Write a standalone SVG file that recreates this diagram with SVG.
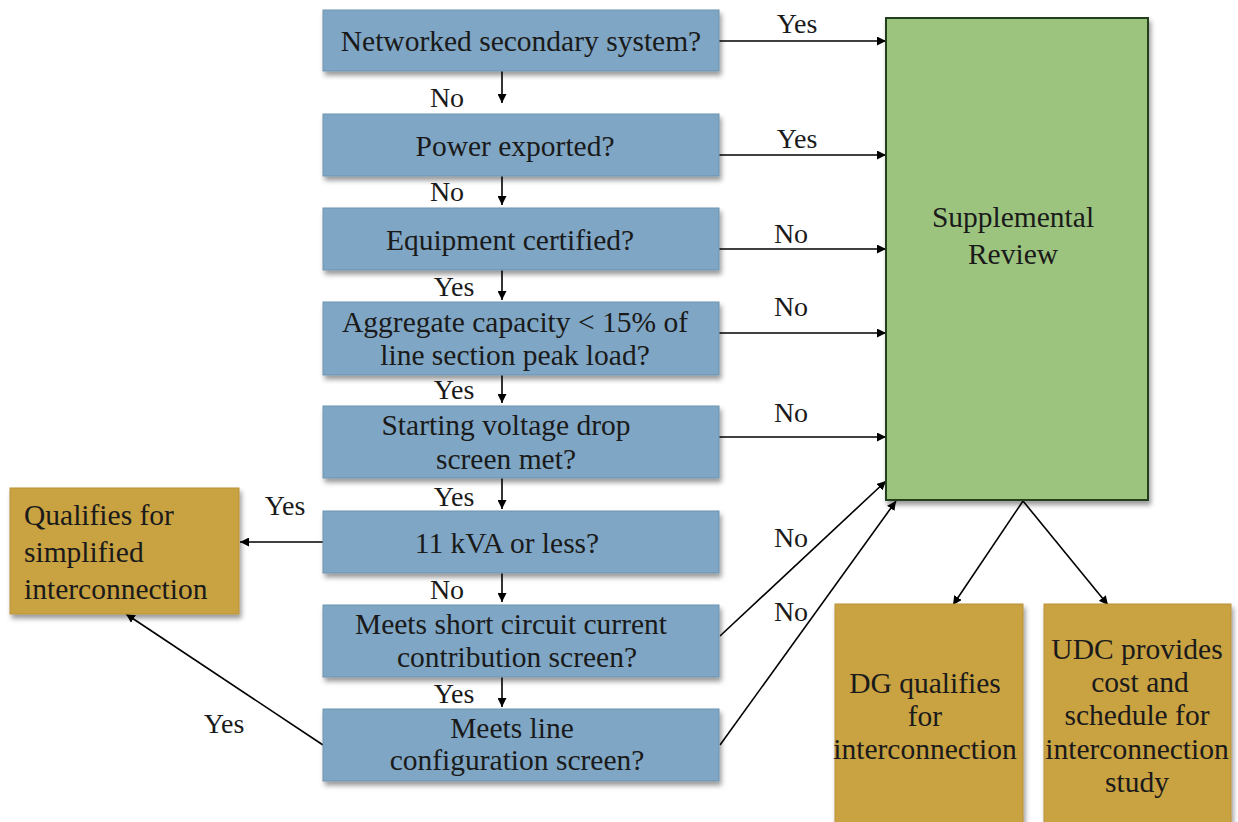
<svg xmlns="http://www.w3.org/2000/svg" width="1238" height="822" viewBox="0 0 1238 822" font-family="'Liberation Serif', 'Times New Roman', Times, serif">
<style>
text{font-family:'Liberation Serif','Times New Roman',Times,serif;fill:#1a1a1a}
.t{font-size:29.5px;text-anchor:middle}
.tl{font-size:29.5px}
.lb{font-size:28px;text-anchor:middle}
.blue{fill:#7FA6C4;stroke:#6E93AF;stroke-width:1}
.green{fill:#9CC47F;stroke:#24401A;stroke-width:2}
.gold{fill:#C9A243;stroke:#B8923A;stroke-width:1}
.c{stroke:#000;stroke-width:1.6;fill:none;marker-end:url(#ah)}
</style>
<defs>
<marker id="ah" viewBox="0 0 10 10" refX="10" refY="5" markerWidth="9" markerHeight="9" markerUnits="userSpaceOnUse" orient="auto"><path d="M0,0L10,5L0,10z" fill="#000"/></marker>
<filter id="sh" x="-10%" y="-10%" width="125%" height="130%"><feDropShadow dx="2" dy="4" stdDeviation="2.5" flood-color="#000" flood-opacity="0.4"/></filter>
</defs>
<rect width="1238" height="822" fill="#fff"/>
<g id="connectors">
<path class="c" d="M502,71V103"/>
<path class="c" d="M502,176V205"/>
<path class="c" d="M502,270V300"/>
<path class="c" d="M502,375V403"/>
<path class="c" d="M502,478V509"/>
<path class="c" d="M502,573V602"/>
<path class="c" d="M502,677V707"/>
<path class="c" d="M719,41H886"/>
<path class="c" d="M719,155H886"/>
<path class="c" d="M719,249H886"/>
<path class="c" d="M719,333H886"/>
<path class="c" d="M719,437H886"/>
<path class="c" d="M720,636L886,481"/>
<path class="c" d="M720,745L896,501"/>
<path class="c" d="M323,542H240"/>
<path class="c" d="M323,745L126,614"/>
<path class="c" d="M1023,501L953,605"/>
<path class="c" d="M1023,501L1108,605"/>
<text class="lb" x="797" y="33">Yes</text>
<text class="lb" x="447" y="107">No</text>
<text class="lb" x="797" y="148">Yes</text>
<text class="lb" x="447" y="201">No</text>
<text class="lb" x="791" y="243">No</text>
<text class="lb" x="454" y="296">Yes</text>
<text class="lb" x="791" y="316">No</text>
<text class="lb" x="454" y="399">Yes</text>
<text class="lb" x="791" y="422">No</text>
<text class="lb" x="454" y="506">Yes</text>
<text class="lb" x="285" y="515">Yes</text>
<text class="lb" x="791" y="547">No</text>
<text class="lb" x="447" y="599">No</text>
<text class="lb" x="791" y="621">No</text>
<text class="lb" x="454" y="703">Yes</text>
<text class="lb" x="224" y="733">Yes</text>
</g>
<g id="n1"><rect class="blue" filter="url(#sh)" x="323" y="10" width="396" height="61"/><text class="t" x="521" y="51">Networked secondary system?</text></g>
<g id="n2"><rect class="blue" filter="url(#sh)" x="323" y="114" width="396" height="62"/><text class="t" x="515" y="156">Power exported?</text></g>
<g id="n3"><rect class="blue" filter="url(#sh)" x="323" y="208" width="396" height="62"/><text class="t" x="510" y="250">Equipment certified?</text></g>
<g id="n4"><rect class="blue" filter="url(#sh)" x="323" y="302" width="396" height="73"/><text class="t" x="515" y="332">Aggregate capacity &lt; 15% of</text><text class="t" x="515" y="365">line section peak load?</text></g>
<g id="n5"><rect class="blue" filter="url(#sh)" x="323" y="406" width="396" height="72"/><text class="t" x="506" y="435">Starting voltage drop</text><text class="t" x="506" y="469">screen met?</text></g>
<g id="n6"><rect class="blue" filter="url(#sh)" x="323" y="511" width="396" height="62"/><text class="t" x="507" y="553">11 kVA or less?</text></g>
<g id="n7"><rect class="blue" filter="url(#sh)" x="323" y="605" width="396" height="72"/><text class="t" x="511" y="634">Meets short circuit current</text><text class="t" x="517" y="667">contribution screen?</text></g>
<g id="n8"><rect class="blue" filter="url(#sh)" x="323" y="709" width="396" height="72"/><text class="t" x="512" y="738">Meets line</text><text class="t" x="517" y="770">configuration screen?</text></g>
<g id="review"><rect class="green" filter="url(#sh)" x="886" y="18" width="262" height="482"/><text class="t" x="1013" y="227">Supplemental</text><text class="t" x="1013" y="264">Review</text></g>
<g id="simplified"><rect class="gold" filter="url(#sh)" x="10" y="488" width="229" height="126"/><text class="tl" x="24" y="525">Qualifies for</text><text class="tl" x="24" y="562">simplified</text><text class="tl" x="24" y="599">interconnection</text></g>
<g id="dg"><rect class="gold" filter="url(#sh)" x="835" y="604" width="188" height="230"/><text class="t" x="925" y="693">DG qualifies</text><text class="t" x="925" y="726">for</text><text class="t" x="925" y="759">interconnection</text></g>
<g id="udc"><rect class="gold" filter="url(#sh)" x="1044" y="604" width="187" height="230"/><text class="t" x="1137" y="659">UDC provides</text><text class="t" x="1140" y="692">cost and</text><text class="t" x="1137" y="725">schedule for</text><text class="t" x="1137" y="759">interconnection</text><text class="t" x="1137" y="792">study</text></g>
</svg>
